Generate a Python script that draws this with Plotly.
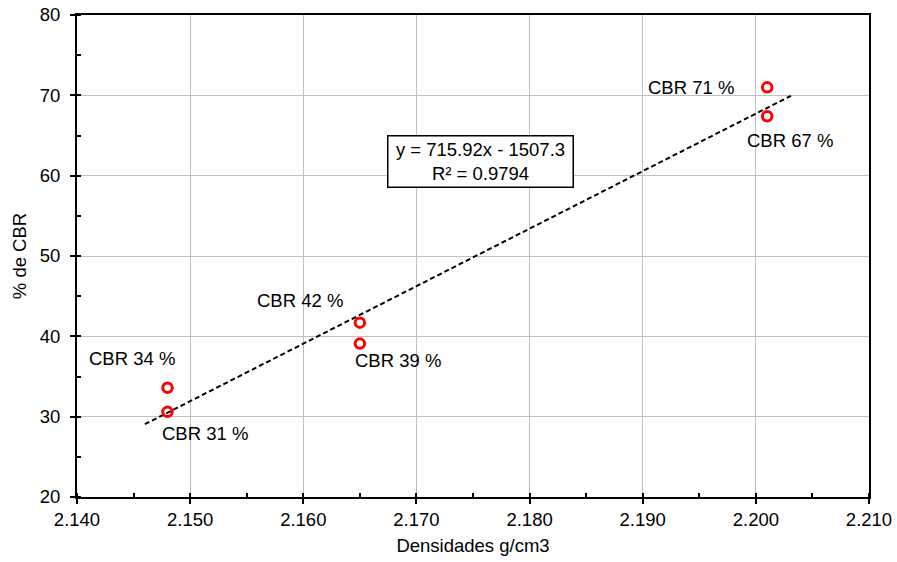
import plotly.graph_objects as go

# CBR test results: dry density (g/cm3) vs CBR (%)
densidades = [2.148, 2.148, 2.165, 2.165, 2.201, 2.201]
cbr = [33.6, 30.6, 41.7, 39.1, 71.0, 67.4]

# Linear trendline (least squares) and its coefficient of determination
pendiente = 715.92
intercepto = -1507.3
r2 = 0.9794
trend_x = [2.146, 2.2031]

x_ticks = [2.14, 2.15, 2.16, 2.17, 2.18, 2.19, 2.20, 2.21]
y_ticks = [20, 30, 40, 50, 60, 70, 80]

# pixel offsets of each point label relative to its marker
label_offsets = [(-36, 29), (37, -22), (-60, 22), (38, -17), (-76, 0), (23, -24)]

FONT = "Liberation Sans, Arial, sans-serif"
FS = 18.5

fig = go.Figure()

trend_y = [pendiente * x + intercepto for x in trend_x]
fig.add_trace(go.Scatter(
    x=trend_x, y=trend_y, mode="lines",
    line=dict(color="black", width=2, dash="5px,3px"),
    hoverinfo="skip", showlegend=False,
))

fig.add_trace(go.Scatter(
    x=densidades, y=cbr, mode="markers",
    marker=dict(symbol="circle-open", size=9.5, color="#ff0000",
                line=dict(color="#ff0000", width=3)),
    showlegend=False,
))

for x, y, (dx, dy) in zip(densidades, cbr, label_offsets):
    fig.add_annotation(
        x=x, y=y, text=f"CBR {round(y)} %", showarrow=False,
        xshift=dx, yshift=dy, xanchor="center", yanchor="middle",
        font=dict(family=FONT, size=FS, color="black"),
    )

signo = "-" if intercepto < 0 else "+"
fig.add_annotation(
    x=2.17569, y=61.75,
    text=f"y = {pendiente}x {signo} {abs(intercepto)}<br>R² = {r2}",
    showarrow=False, xanchor="center", yanchor="middle",
    font=dict(family=FONT, size=FS, color="black"),
    bordercolor="black", borderwidth=1.5, borderpad=1,
    bgcolor="white", width=182, height=48, align="center",
)

fig.update_layout(
    width=897, height=562,
    margin=dict(l=77, r=28, t=15, b=65),
    paper_bgcolor="white", plot_bgcolor="white",
    font=dict(family=FONT, size=FS, color="black"),
    xaxis=dict(
        range=[2.14, 2.21], tickvals=x_ticks, tickformat=".3f",
        automargin=False,
        showgrid=True, gridcolor="#bfbfbf", gridwidth=1,
        showline=True, linecolor="black", linewidth=2, mirror=True,
        ticks="outside", ticklen=5, tickwidth=1.5, tickcolor="black",
        minor=dict(dtick=0.005, ticks="inside", ticklen=4, tickwidth=1.5,
                   tickcolor="black", showgrid=False),
        zeroline=False,
        title=dict(text="Densidades g/cm3", standoff=10,
                   font=dict(family=FONT, size=FS)),
        tickfont=dict(family=FONT, size=FS),
    ),
    yaxis=dict(
        range=[20, 80], tickvals=y_ticks,
        automargin=False, ticklabelstandoff=6,
        showgrid=True, gridcolor="#bfbfbf", gridwidth=1,
        showline=True, linecolor="black", linewidth=2, mirror=True,
        ticks="outside", ticklen=5, tickwidth=1.5, tickcolor="black",
        minor=dict(dtick=5, ticks="inside", ticklen=4, tickwidth=1.5,
                   tickcolor="black", showgrid=False),
        zeroline=False,
        title=dict(text="% de CBR", standoff=8,
                   font=dict(family=FONT, size=FS)),
        tickfont=dict(family=FONT, size=FS),
    ),
)

fig.write_html("out.html")
